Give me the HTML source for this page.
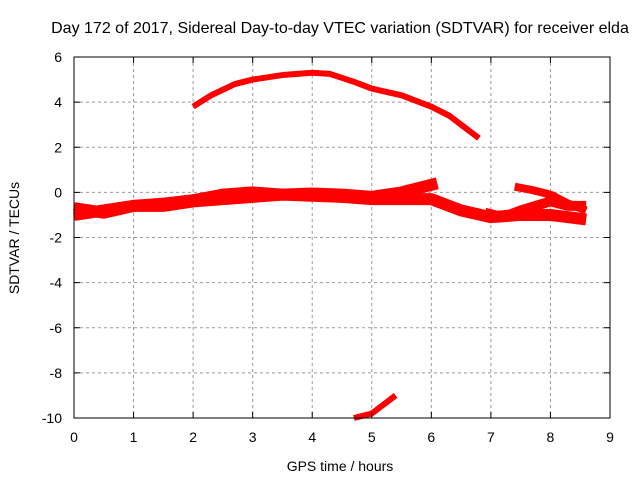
<!DOCTYPE html>
<html><head><meta charset="utf-8"><style>
body{margin:0;background:#fff}
svg text{font-family:"Liberation Sans",sans-serif;font-size:14px;fill:#000}
</style></head><body>
<svg id="chart" width="640" height="480">
<text x="340" y="33" text-anchor="middle" style="font-size:16px">Day 172 of 2017, Sidereal Day-to-day VTEC variation (SDTVAR) for receiver elda</text>
<text x="340" y="471" text-anchor="middle">GPS time / hours</text>
<text transform="translate(19,238) rotate(-90)" text-anchor="middle">SDTVAR / TECUs</text>
<g id="grid"></g><g id="series"></g>
<rect x="74" y="57" width="536" height="361" fill="none" stroke="#000" stroke-width="1"/>
<g id="ticks"></g>
</svg>
<script>
const xTicks=[0,1,2,3,4,5,6,7,8,9];
const yTicks=[6,4,2,0,-2,-4,-6,-8,-10];
const arcX=[2.0,2.3,2.7,3.0,3.5,4.0,4.3,4.7,5.0,5.5,6.0,6.3,6.5,6.8];
const arcY=[3.8,4.3,4.8,5.0,5.2,5.3,5.25,4.9,4.6,4.3,3.8,3.4,3.0,2.4];
const lowX=[4.7,5.0,5.4];
const lowY=[-10,-9.8,-9.0];
const bandAX=[0,0.5,1,1.5,2,2.5,3,3.5,4,4.5,5,5.5,6.1];
const bandAY=[-0.7,-0.9,-0.6,-0.5,-0.35,-0.1,0.0,-0.1,-0.05,-0.1,-0.2,0.0,0.4];
const bandBX=[0,0.5,1,1.5,2,2.5,3,3.5,4,4.5,5,5.5,6,6.5,7,7.5,8,8.6];
const bandBY=[-1.0,-0.8,-0.6,-0.6,-0.4,-0.3,-0.2,-0.1,-0.15,-0.2,-0.3,-0.3,-0.3,-0.8,-1.1,-1.0,-1.0,-1.2];
const bandCX=[7.4,7.7,8.0,8.3,8.6];
const bandCY=[0.25,0.1,-0.1,-0.5,-0.8];
const bandDX=[6.9,7.2,7.5,8.0,8.3,8.6];
const bandDY=[-0.9,-1.1,-0.8,-0.4,-0.6,-0.6];
const sx=v=>74+v*536/9, sy=v=>57+(6-v)*361/16;
const NS="http://www.w3.org/2000/svg";
const grid=document.getElementById('grid'),ticks=document.getElementById('ticks'),ser=document.getElementById('series');
function mk(t,a,p){const e=document.createElementNS(NS,t);for(const k in a)e.setAttribute(k,a[k]);p.appendChild(e);return e;}
xTicks.forEach(v=>{
 if(v>0&&v<9){const g=mk('line',{x1:sx(v),x2:sx(v),y1:57,y2:418,stroke:'#999','stroke-dasharray':'3,3'},grid);
 
 }
 const t=mk('text',{x:sx(v),y:442,'text-anchor':'middle'},ticks);t.textContent=v;
 
 
 mk('line',{x1:sx(v),x2:sx(v),y1:418,y2:412,stroke:'#000'},ticks);
 mk('line',{x1:sx(v),x2:sx(v),y1:57,y2:63,stroke:'#000'},ticks);
});
yTicks.forEach(v=>{
 if(v<6&&v>-10){const g=mk('line',{x1:74,x2:610,y1:sy(v),y2:sy(v),stroke:'#999','stroke-dasharray':'3,3'},grid);
 
 }
 const t=mk('text',{x:62,y:sy(v)+5,'text-anchor':'end'},ticks);t.textContent=v;
 
 
 mk('line',{x1:74,x2:80,y1:sy(v),y2:sy(v),stroke:'#000'},ticks);
 mk('line',{x1:604,x2:610,y1:sy(v),y2:sy(v),stroke:'#000'},ticks);
});
function line(xs,ys,w,name){
 const p=mk('polyline',{points:xs.map((x,i)=>sx(x)+','+sy(ys[i])).join(' '),fill:'none',stroke:'#f00','stroke-width':w,'stroke-linejoin':'round'},ser);
 
 
}
line(arcX,arcY,6,'series-upper-arc');
line(lowX,lowY,6,'series-low-segment');
line(bandAX,bandAY,12,'series-band-a');
line(bandBX,bandBY,12,'series-band-b');
line(bandCX,bandCY,8,'series-band-c');
line(bandDX,bandDY,10,'series-band-d');
</script>
</body></html>
